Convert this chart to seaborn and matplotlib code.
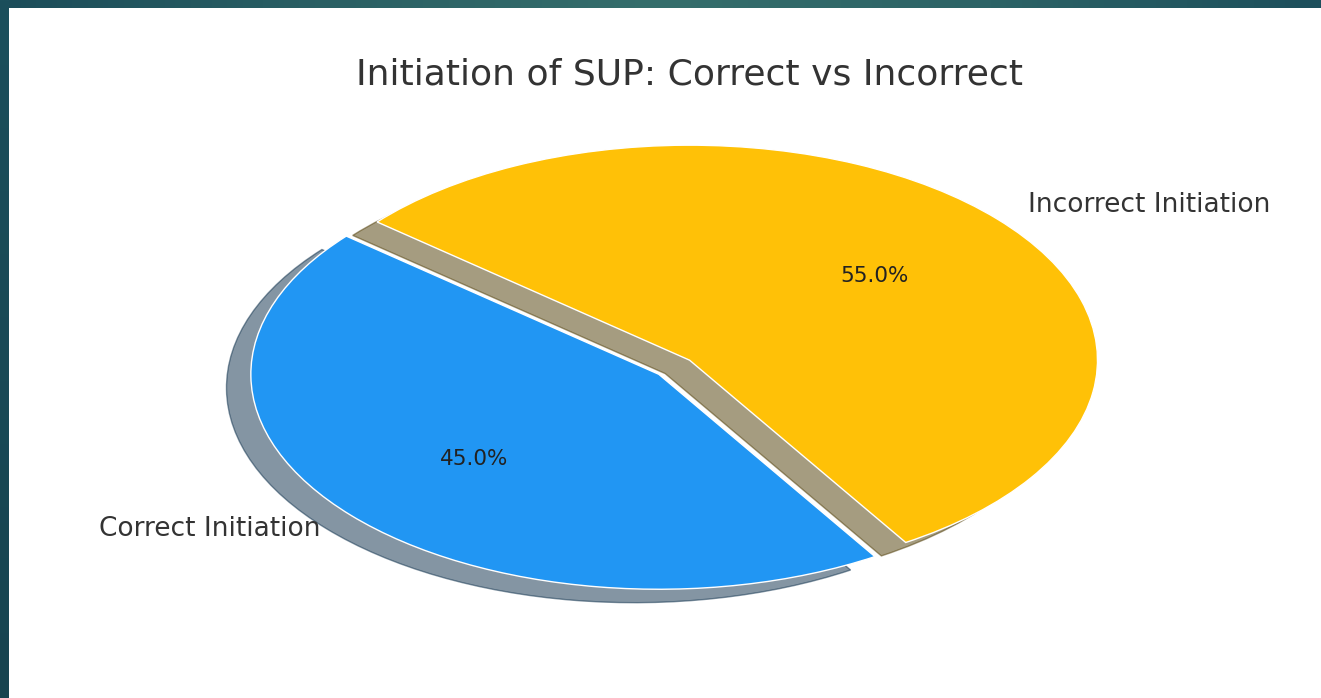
import numpy as np
import matplotlib
matplotlib.use("Agg")
import matplotlib.pyplot as plt
import seaborn as sns
from matplotlib.colors import LinearSegmentedColormap

# data
labels = ['Correct Initiation', 'Incorrect Initiation']
sizes = [45, 55]
colors = ['#2196F3', '#FFC107']
explode = (0.1, 0)

sns.set_style('white')
plt.rcParams['font.family'] = ['DejaVu Sans']

fig = plt.figure(figsize=(13.21, 6.98), dpi=100)
fig.patch.set_facecolor('white')

# slide border (teal bars on top and left)
top = fig.add_axes([0, 1 - 8 / 698, 1, 8 / 698])
cmap_top = LinearSegmentedColormap.from_list(
    'top', ['#1c4d5a', '#2a6064', '#356e6c', '#2c6366', '#1d4f5c'])
top.imshow(np.linspace(0, 1, 256).reshape(1, -1), aspect='auto', cmap=cmap_top)
top.axis('off')

left = fig.add_axes([0, 0, 9 / 1321, 1])
cmap_left = LinearSegmentedColormap.from_list('left', ['#1c4f5c', '#174450'])
left.imshow(np.linspace(0, 1, 256).reshape(-1, 1), aspect='auto', cmap=cmap_left)
left.axis('off')

# pie
ax = fig.add_axes([0.136, 0.099, 0.772, 0.770])
wedges, texts, autotexts = ax.pie(
    sizes, labels=labels, colors=colors, explode=explode,
    autopct='%1.1f%%', startangle=140,
    shadow={'ox': -0.043, 'oy': -0.045},
    textprops={'fontsize': 19, 'color': '#333333'})
for t in autotexts:
    t.set_fontsize(15.5)
    t.set_color('#222222')
ax.set_aspect('auto')
ax.set_xlim(-1.25, 1.25)
ax.set_ylim(-1.25, 1.25)
ax.set_title('Initiation of SUP: Correct vs Incorrect', fontsize=26,
             color='#333333', pad=5)

fig.savefig('out.png', dpi=100)
